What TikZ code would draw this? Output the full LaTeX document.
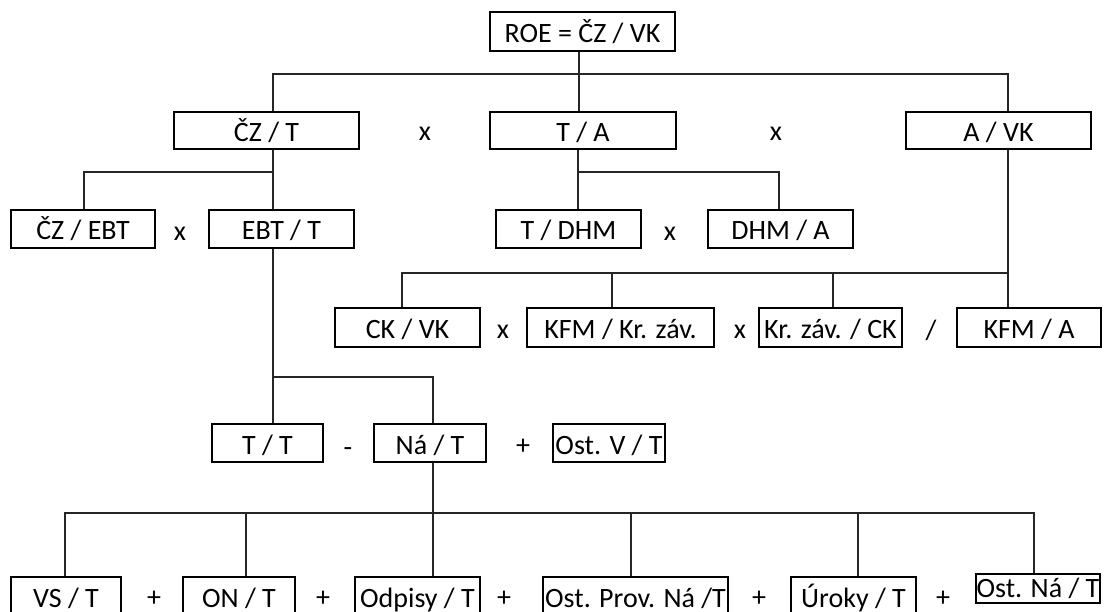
\documentclass[tikz,border=0pt]{standalone}
\usepackage{fontspec}
\setmainfont{Carlito}
\begin{document}
\begin{tikzpicture}[x=1pt,y=-1pt,
  box/.style={draw=black, line width=1.8pt, inner sep=0pt, font=\fontsize{28}{32}\selectfont, text height=22pt, text depth=0pt},
  op/.style={inner sep=0pt, anchor=base, font=\fontsize{28}{32}\selectfont},
  link/.style={draw=black!85, line width=1.4pt}]
\useasboundingbox (0,0) rectangle (1105,612);
% row 1
\node[box, minimum width=185pt, minimum height=39pt] (roe) at (582.5,31.5) {ROE = ČZ / VK};
% row 2
\node[box, minimum width=185pt, minimum height=37pt] (czt) at (266.5,130.5) {ČZ / T};
\node[box, minimum width=186pt, minimum height=37pt] (ta) at (583,130.5) {T / A};
\node[box, minimum width=185pt, minimum height=37pt] (avk) at (998.5,130.5) {A / VK};
\node[op] (o1) at (425,141) {x};
\node[op] (o2) at (776,141) {x};
% row 3
\node[box, minimum width=144pt, minimum height=38pt] (czebt) at (83,229) {ČZ / EBT};
\node[box, minimum width=145pt, minimum height=38pt] (ebtt) at (281.5,229) {EBT / T};
\node[box, minimum width=145pt, minimum height=38pt] (tdhm) at (568.5,229) {T / DHM};
\node[box, minimum width=145pt, minimum height=38pt] (dhma) at (780.5,229) {DHM / A};
\node[op] (o3) at (180,240.5) {x};
\node[op] (o4) at (670,240.5) {x};
% row 4
\node[box, minimum width=145pt, minimum height=39pt] (ckvk) at (407.5,327.5) {CK / VK};
\node[box, minimum width=187pt, minimum height=39pt] (kfmkr) at (620.5,327.5) {KFM / Kr. záv.};
\node[box, minimum width=143pt, minimum height=39pt] (krck) at (830.5,327.5) {Kr. záv. / CK};
\node[box, minimum width=144pt, minimum height=39pt] (kfma) at (1029,327.5) {KFM / A};
\node[op] (o5) at (503,338.5) {x};
\node[op] (o6) at (740,338.5) {x};
\node[op] (o7) at (931,339) {/};
% row 5
\node[box, minimum width=111pt, minimum height=38pt] (tt) at (267.5,443) {T / T};
\node[box, minimum width=112pt, minimum height=38pt] (nat) at (430,443) {Ná / T};
\node[box, minimum width=112pt, minimum height=38pt] (ostv) at (609,443) {Ost. V / T};
\node[op] (o8) at (348,456) {-};
\node[op] (o9) at (523,454) {+};
% row 6
\node[box, minimum width=110pt, minimum height=38pt] (vst) at (66,596) {VS / T};
\node[box, minimum width=112pt, minimum height=38pt] (ont) at (239,596) {ON / T};
\node[box, minimum width=125pt, minimum height=38pt] (odp) at (417.5,596) {Odpisy / T};
\node[box, minimum width=185pt, minimum height=38pt] (ostprov) at (635.5,596) {Ost. Prov. Ná /T};
\node[box, minimum width=125pt, minimum height=38pt] (uroky) at (853.5,596) {Úroky / T};
\node[box, minimum width=124pt, minimum height=29pt, text height=18pt] (ostna) at (1038,588.5) {Ost. Ná / T};
\node[op] (p1) at (154,606) {+};
\node[op] (p2) at (323,606) {+};
\node[op] (p3) at (504,606) {+};
\node[op] (p4) at (759,606) {+};
\node[op] (p5) at (943,606) {+};
% connectors level 1
\coordinate (aL) at (273,74);
\coordinate (aM) at (579,74);
\coordinate (aR) at (1008,74);
\draw[link] (roe.south -| aM) -- (aM);
\draw[link] (czt.north -| aL) -- (aL) -- (aR) -- (avk.north -| aR);
\draw[link] (aM) -- (ta.north -| aM);
% CZ/T
\coordinate (bA) at (273,172);
\coordinate (bB) at (84,172);
\draw[link] (czt.south -| bA) -- (ebtt.north -| bA);
\draw[link] (bA) -- (bB) -- (czebt.north -| bB);
% T/A
\coordinate (cA) at (578,172);
\coordinate (cB) at (779,172);
\draw[link] (ta.south -| cA) -- (tdhm.north -| cA);
\draw[link] (cA) -- (cB) -- (dhma.north -| cB);
% A/VK
\coordinate (dR) at (1008,273);
\coordinate (dA) at (402,273);
\coordinate (dB) at (612,273);
\coordinate (dC) at (833,273);
\draw[link] (avk.south -| dR) -- (kfma.north -| dR);
\draw[link] (dR) -- (dA) -- (ckvk.north -| dA);
\draw[link] (dB) -- (kfmkr.north -| dB);
\draw[link] (dC) -- (krck.north -| dC);
% EBT/T
\coordinate (eA) at (273,377);
\coordinate (eB) at (433,377);
\draw[link] (ebtt.south -| eA) -- (tt.north -| eA);
\draw[link] (eA) -- (eB) -- (nat.north -| eB);
% Na/T
\coordinate (fA) at (65,513);
\coordinate (fB) at (246,513);
\coordinate (fC) at (433,513);
\coordinate (fD) at (631,513);
\coordinate (fE) at (858,513);
\coordinate (fF) at (1034,513);
\draw[link] (nat.south -| fC) -- (odp.north -| fC);
\draw[link] (vst.north -| fA) -- (fA) -- (fF) -- (ostna.north -| fF);
\draw[link] (fB) -- (ont.north -| fB);
\draw[link] (fD) -- (ostprov.north -| fD);
\draw[link] (fE) -- (uroky.north -| fE);
\end{tikzpicture}
\end{document}
